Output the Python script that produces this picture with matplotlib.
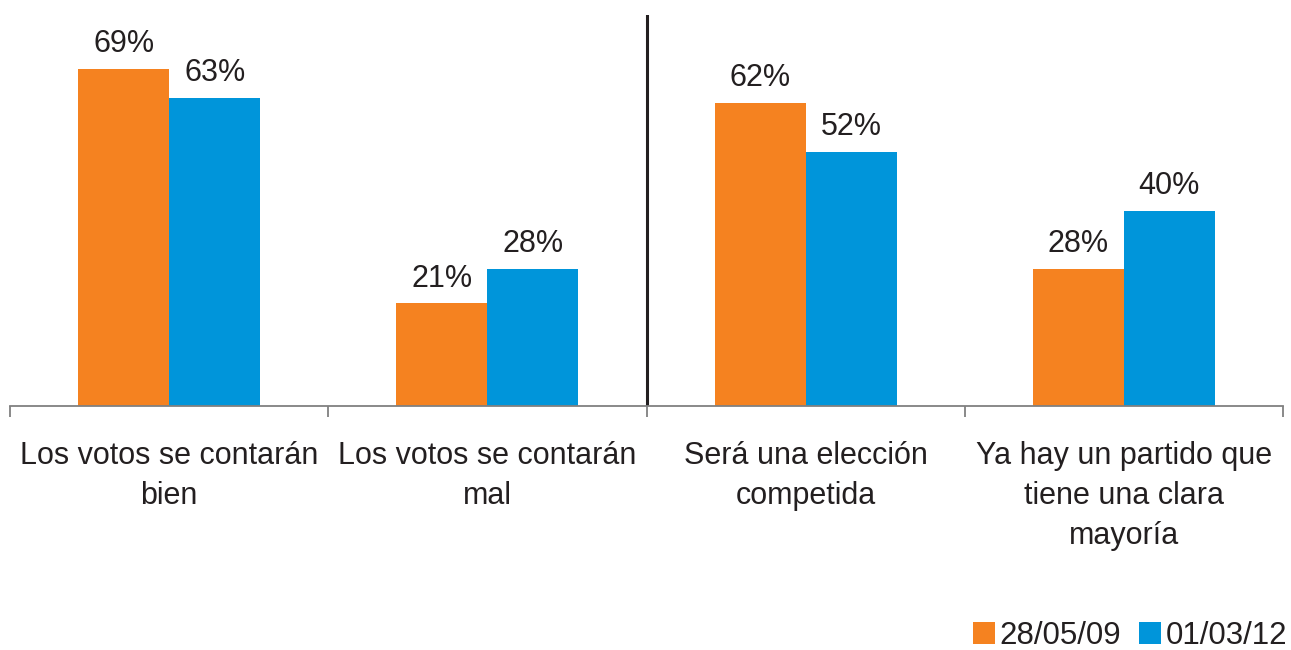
import matplotlib.pyplot as plt
import numpy as np

plt.rcParams['font.family'] = ['Liberation Sans', 'DejaVu Sans']

categories = ['Los votos se contarán\nbien', 'Los votos se contarán\nmal',
              'Será una elección\ncompetida', 'Ya hay un partido que\ntiene una clara\nmayoría']
series_names = ['28/05/09', '01/03/12']
vals_2009 = [69, 21, 62, 28]
vals_2012 = [63, 28, 52, 40]
colors = ['#F58220', '#0095DA']

fig = plt.figure(figsize=(12.91, 6.5), dpi=100)
ax = fig.add_axes([10/1291, 1 - 406/650, 1273/1291, 391/650])

x = np.arange(len(categories))
w = 0.286
b1 = ax.bar(x - w/2, vals_2009, w, color=colors[0], label=series_names[0])
b2 = ax.bar(x + w/2, vals_2012, w, color=colors[1], label=series_names[1])

for bars, vals in [(b1, vals_2009), (b2, vals_2012)]:
    for r, v in zip(bars, vals):
        ax.annotate(f'{v}%', (r.get_x() + r.get_width()/2, v), xytext=(0, 7),
                    textcoords='offset points', ha='center', va='bottom',
                    fontsize=22, color='#231F20')

ax.set_xlim(-0.5, 3.5)
ax.set_ylim(0, 80)
ax.axvline(1.5, color='#231F20', lw=2.2)

for s in ['top', 'right', 'left']:
    ax.spines[s].set_visible(False)
ax.spines['bottom'].set_color('#808080')
ax.spines['bottom'].set_linewidth(1.3)
ax.set_yticks([])

# boundary ticks between categories
ax.set_xticks(np.arange(-0.5, 4, 1))
ax.set_xticklabels([])
ax.tick_params(axis='x', direction='out', length=8, width=1.3, color='#808080')
ax.set_xticks(x, minor=True)
ax.set_xticklabels(categories, minor=True, fontsize=22, color='#231F20', linespacing=1.45)
ax.tick_params(axis='x', which='minor', length=0, pad=25)

fig.legend(loc='lower right', bbox_to_anchor=(1.019, -0.045), ncol=2, frameon=False,
           fontsize=22.5, handlelength=0.7, handleheight=0.7, handletextpad=0.15,
           columnspacing=0.58, labelcolor='#231F20')

fig.savefig('out.png', dpi=100)
